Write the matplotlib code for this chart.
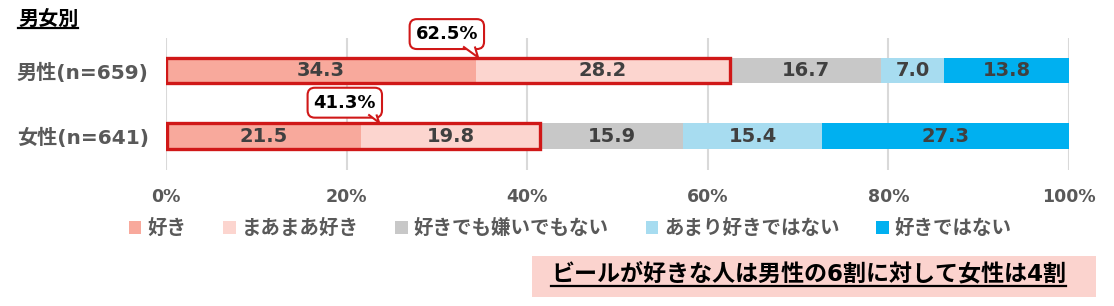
import matplotlib
matplotlib.use("Agg")
import matplotlib.pyplot as plt
from matplotlib.patches import Rectangle, Polygon
from matplotlib.lines import Line2D
import numpy as np

plt.rcParams['font.family'] = ['DejaVu Sans', 'Noto Sans CJK JP']
plt.rcParams['font.weight'] = 'bold'

# ---- data ----
categories = ['男性(n=659)', '女性(n=641)']
series_names = ['好き', 'まあまあ好き', '好きでも嫌いでもない', 'あまり好きではない', '好きではない']
male_values = [34.3, 28.2, 16.7, 7.0, 13.8]
female_values = [21.5, 19.8, 15.9, 15.4, 27.3]
like_totals = ['62.5%', '41.3%']
tick_values = [0, 20, 40, 60, 80, 100]
tick_labels = ['0%', '20%', '40%', '60%', '80%', '100%']
title_text = '男女別'
summary_text = 'ビールが好きな人は男性の6割に対して女性は4割'

colors = ['#F8A99C', '#FCD5CF', '#C8C8C8', '#A7DCF0', '#00B0F0']
red = '#D01818'
label_gray = '#595959'
value_gray = '#404040'

W, H = 1114, 306
fig = plt.figure(figsize=(W / 100, H / 100), dpi=100)
ax = fig.add_axes([166 / W, 1 - 170 / H, 903 / W, 132 / H])

data = np.array([male_values, female_values])
ypos = np.arange(len(categories))
bar_h = 0.39
starts = 100 - data.sum(axis=1)

left = starts.copy()
for j, name in enumerate(series_names):
    vals = data[:, j]
    ax.barh(ypos, vals, left=left, height=bar_h, color=colors[j], edgecolor='none',
            label=name, zorder=2)
    for i in range(len(categories)):
        ax.text(left[i] + vals[i] / 2, ypos[i], f'{vals[i]:.1f}', ha='center', va='center',
                fontsize=14, color=value_gray, fontweight='bold', zorder=4)
    left = left + vals

# red outline around "like" total
for i in range(len(categories)):
    w = data[i, 0] + data[i, 1]
    ax.add_patch(Rectangle((starts[i], ypos[i] - bar_h / 2), w, bar_h, fill=False,
                           edgecolor=red, linewidth=2.4, zorder=5))

# callouts (speech bubbles)
callout_centers = [(31.1, -0.56), (19.8, 0.49)]
tail_bases = [(32.9, 34.2), (22.4, 23.3)]
tail_tips = [34.55, 23.6]
for i in range(len(categories)):
    ax.text(callout_centers[i][0], callout_centers[i][1], like_totals[i],
            ha='center', va='center', fontsize=13, color='black', fontweight='bold',
            zorder=6, clip_on=False,
            bbox=dict(boxstyle='round,pad=0.33,rounding_size=0.4', fc='white',
                      ec=red, lw=1.5))
    base_y = ypos[i] - 0.37 if i == 0 else ypos[i] - 0.33
    tip_y = ypos[i] - bar_h / 2 - 0.01
    tail = Polygon([(tail_bases[i][0], base_y), (tail_tips[i], tip_y),
                    (tail_bases[i][1], base_y)], closed=False, facecolor='white',
                   edgecolor=red, linewidth=1.5, zorder=7, clip_on=False)
    ax.add_patch(tail)

ax.set_xlim(0, 100)
ax.set_ylim(1.52, -0.5)
ax.set_xticks(tick_values)
ax.set_xticklabels(tick_labels)
ax.set_yticks(ypos)
ax.set_yticklabels(categories)
ax.tick_params(axis='x', length=0, pad=13, labelsize=12.5, labelcolor=label_gray)
ax.tick_params(axis='y', length=0, pad=12.5, labelsize=14.5, labelcolor=label_gray)
for lab in ax.get_xticklabels() + ax.get_yticklabels():
    lab.set_fontweight('bold')
ax.grid(axis='x', color='#D9D9D9', linewidth=1.5, zorder=0)
ax.set_axisbelow(True)
for s in ax.spines.values():
    s.set_visible(False)

# legend
leg = fig.legend(loc='center left', bbox_to_anchor=(129 / W, 1 - 229 / H), ncol=5,
                 frameon=False, fontsize=14, handlelength=0.64, handleheight=0.64,
                 handletextpad=0.3, columnspacing=1.9, borderpad=0, borderaxespad=0)
for t in leg.get_texts():
    t.set_color(label_gray)
    t.set_fontweight('bold')

# title
title = fig.text(18 / W, 1 - 19 / H, title_text, ha='left', va='center', fontsize=14.5,
                 color='black', fontweight='bold')

# summary box
fig.patches.append(Rectangle((532 / W, 1 - 297 / H), 564 / W, 41 / H, transform=fig.transFigure,
                             facecolor='#FBD3CE', edgecolor='none', zorder=0))
summary = fig.text(551 / W, 1 - 275 / H, summary_text, ha='left', va='center', fontsize=16.6,
                   color='black', fontweight='bold')

# underlines
renderer = fig.canvas.get_renderer()
inv = fig.transFigure.inverted()
for t, lw in [(title, 1.6), (summary, 1.6)]:
    bb = t.get_window_extent(renderer)
    (x0, y0) = inv.transform((bb.x0, bb.y0 + 1))
    (x1, _) = inv.transform((bb.x1, bb.y0 + 1))
    fig.add_artist(Line2D([x0, x1], [y0, y0], transform=fig.transFigure, color='black', lw=lw))

fig.savefig('out.png', dpi=100)
